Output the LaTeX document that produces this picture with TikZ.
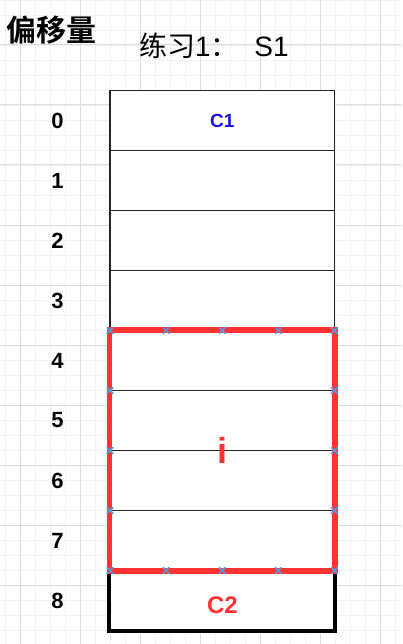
\documentclass[tikz,border=0pt]{standalone}
\usepackage{fontspec}
\setmainfont{Liberation Sans}
\newfontfamily\cjk[BoldFont={Noto Sans CJK SC Bold}]{Noto Sans CJK SC}
\usetikzlibrary{shapes.misc}
\definecolor{redline}{RGB}{255,51,51}
\definecolor{cblue}{RGB}{20,20,230}
\definecolor{xblue}{RGB}{80,155,225}
\definecolor{gmajor}{RGB}{220,220,220}
\definecolor{gminor}{RGB}{242,242,242}
\tikzset{
  minorgrid/.style={draw=gminor, line width=0.8pt},
  majorgrid/.style={draw=gmajor, line width=1pt},
  cell/.style={draw=black!85, line width=1.1pt, fill=white, minimum width=224.5pt, minimum height=60pt, inner sep=0pt},
  num/.style={font=\fontsize{22}{22}\selectfont\bfseries, inner sep=0pt},
  redbox/.style={draw=redline, line width=5.5pt},
  blackbox/.style={draw=black, line width=4pt},
  handle/.style={cross out, draw=xblue, minimum size=5pt, inner sep=0pt, line width=1.5pt},
}
\begin{document}
\begin{tikzpicture}[x=1pt,y=-1pt]
\useasboundingbox (0,0) rectangle (402,644);
\fill[white] (0,0) rectangle (402,644);
\foreach \i in {0,...,27} \draw[minorgrid] (5.5+15*\i,0) -- ++(0,644);
\foreach \j in {0,...,43} \draw[minorgrid] (0,15*\j) -- ++(402,0);
\foreach \i in {0,...,6} \draw[majorgrid] (20.5+60*\i,0) -- ++(0,644);
\foreach \j in {0,...,10} \draw[majorgrid] (0,45+60*\j) -- ++(402,0);

\node[font=\cjk\bfseries\fontsize{30}{30}\selectfont, inner sep=0pt] (title) at (51,30) {偏移量};
\node[font=\fontsize{28}{28}\selectfont, inner sep=0pt, anchor=west] (ex) at (139,46) {{\cjk 练习}1{\cjk ：}\ \ S1};

\foreach \k in {0,...,8} {
  \node[cell] (r\k) at (222.25,120.5+60*\k) {};
  \node[num] (n\k) at (57.5,120.5+60*\k) {\k};
}
\draw[blackbox, line join=miter] (r8.north west) -- (r8.south west) -- (r8.south east) -- (r8.north east);
\draw[redbox] (r4.north west) rectangle (r7.south east);

\foreach \k in {0,...,4} {
  \node[handle] (ht\k) at (110+56.125*\k,330.5) {};
  \node[handle] (hb\k) at (110+56.125*\k,570.5) {};
}
\foreach \k in {1,...,3} {
  \node[handle] (hl\k) at (110,330.5+60*\k) {};
  \node[handle] (hr\k) at (334.5,330.5+60*\k) {};
}

\node[font=\fontsize{19}{19}\selectfont\bfseries, text=cblue, inner sep=0pt] (c1) at (222.25,120.5) {C1};
\node[font=\fontsize{36}{36}\selectfont\bfseries, text=redline, inner sep=0pt] (ilab) at (222.25,450.5) {i};
\node[font=\fontsize{24}{24}\selectfont\bfseries, text=redline, inner sep=0pt] (c2) at (222.5,605) {C2};
\end{tikzpicture}
\end{document}
